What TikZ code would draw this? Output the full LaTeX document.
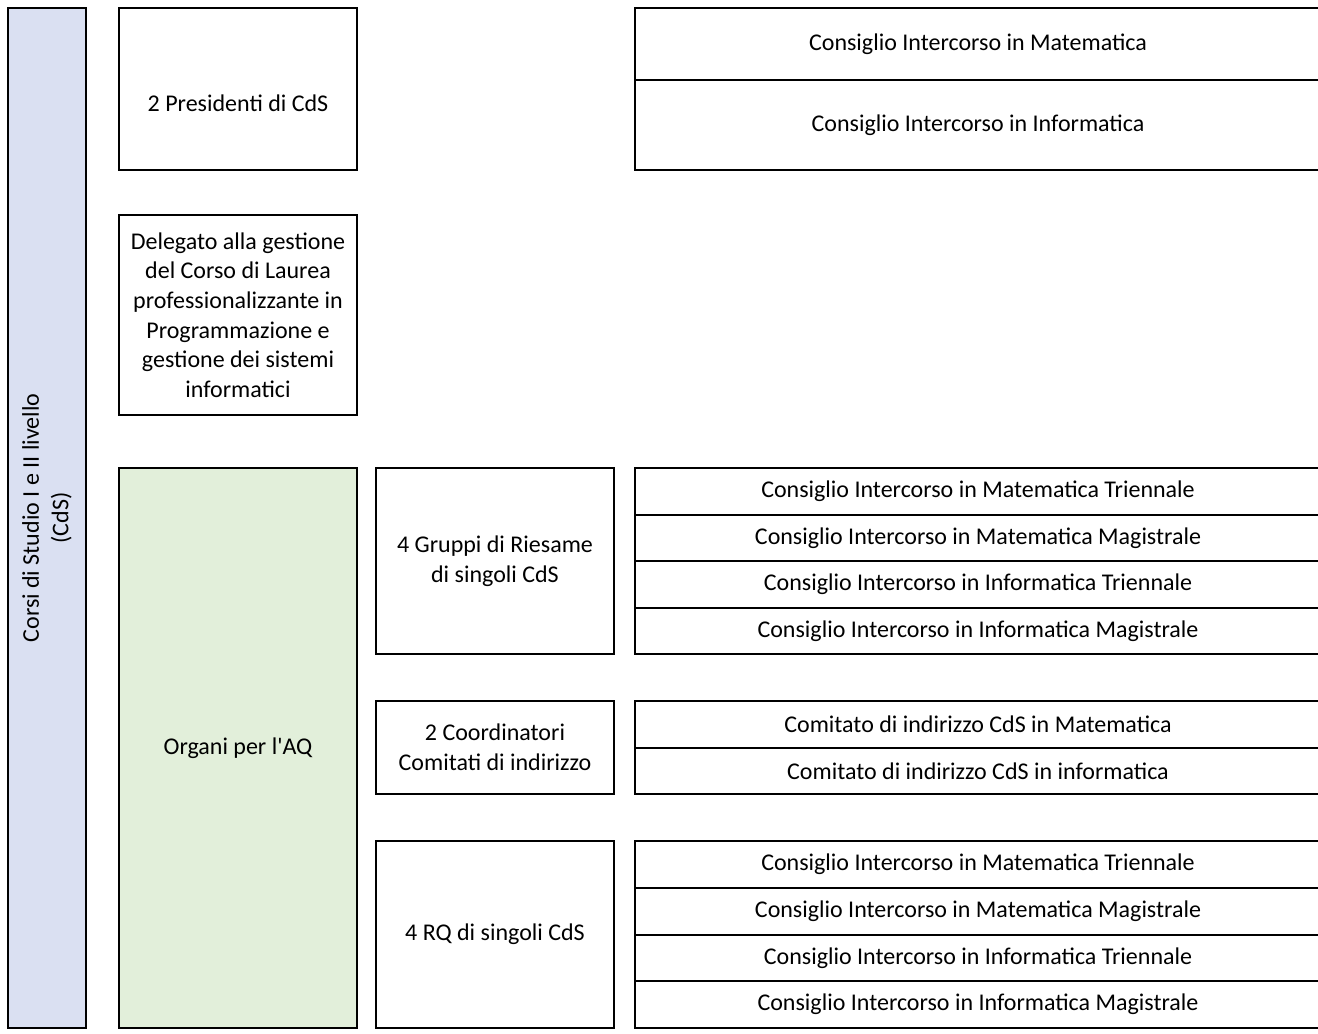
\documentclass[tikz,border=0pt]{standalone}
\usepackage{fontspec}
\setmainfont{Carlito}[Ligatures=TeXOff]
\usetikzlibrary{positioning}

\definecolor{barblue}{HTML}{DAE0F2}
\definecolor{aqgreen}{HTML}{E2EFDA}

\begin{document}
\begin{tikzpicture}[x=1pt, y=-1pt,
    box/.style={rectangle, draw, line width=2pt, outer sep=0pt, inner sep=0pt, align=center,
      font=\fontsize{24}{29.6}\selectfont},
    cell/.style={box, minimum width=686pt},
    side/.style={box, anchor=north west, minimum width=238pt}]

    \useasboundingbox (0,0) rectangle (1318,1034);

    % Left bar
    \node [box, fill=barblue, rotate=90, minimum width=1020pt, minimum height=78pt] (cds) at (47,518)
      {Corsi di Studio I e II livello\\(CdS)};

    % Second column
    \node [side, minimum height=162pt, text height=46pt, text depth=2pt] (pres) at (119,8) {2 Presidenti di CdS};
    \node [side, minimum height=200pt] (deleg) at (119,215)
      {Delegato alla gestione\\del Corso di Laurea\\professionalizzante in\\Programmazione e\\gestione dei sistemi\\informatici};
    \node [side, fill=aqgreen, minimum height=560pt] (organi) at (119,468) {Organi per l'AQ};

    % Third column
    \node [side, minimum height=186pt] (riesame) at (376,468) {4 Gruppi di Riesame\\di singoli CdS};
    \node [side, minimum height=93pt] (coord) at (376,701) {2 Coordinatori\\Comitati di indirizzo};
    \node [side, minimum height=187pt] (rq) at (376,841) {4 RQ di singoli CdS};

    % Councils (top)
    \node [cell, anchor=north west, minimum height=72pt] (cmat) at (635,8) {Consiglio Intercorso in Matematica};
    \node [cell, below=0pt of cmat, minimum height=90pt] (cinf) {Consiglio Intercorso in Informatica};

    % Riesame rows
    \node [cell, anchor=north west, minimum height=46.5pt] (rmt) at (635,468) {Consiglio Intercorso in Matematica Triennale};
    \node [cell, below=0pt of rmt, minimum height=46.5pt] (rmm) {Consiglio Intercorso in Matematica Magistrale};
    \node [cell, below=0pt of rmm, minimum height=46.5pt] (rit) {Consiglio Intercorso in Informatica Triennale};
    \node [cell, below=0pt of rit, minimum height=46.5pt] (rim) {Consiglio Intercorso in Informatica Magistrale};

    % Comitati rows
    \node [cell, anchor=north west, minimum height=46.5pt] (cm) at (635,701) {Comitato di indirizzo CdS in Matematica};
    \node [cell, below=0pt of cm, minimum height=46.5pt] (ci) {Comitato di indirizzo CdS in informatica};

    % RQ rows
    \node [cell, anchor=north west, minimum height=46.75pt] (qmt) at (635,841) {Consiglio Intercorso in Matematica Triennale};
    \node [cell, below=0pt of qmt, minimum height=46.75pt] (qmm) {Consiglio Intercorso in Matematica Magistrale};
    \node [cell, below=0pt of qmm, minimum height=46.75pt] (qit) {Consiglio Intercorso in Informatica Triennale};
    \node [cell, below=0pt of qit, minimum height=46.75pt] (qim) {Consiglio Intercorso in Informatica Magistrale};

\end{tikzpicture}
\end{document}
